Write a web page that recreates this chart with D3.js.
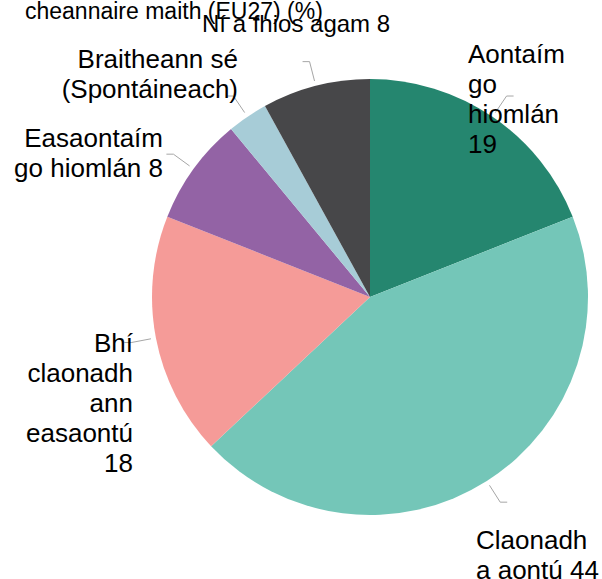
<!DOCTYPE html>
<html>
<head>
<meta charset="utf-8">
<script src="https://cdn.jsdelivr.net/npm/d3@7"></script>
<style>
  html, body { margin: 0; padding: 0; background: #fff; }
  svg { display: block; font-family: "Liberation Sans", Arial, sans-serif; }
</style>
</head>
<body>
<svg id="chart" width="602" height="579"></svg>
<script>
// Survey answers, share of respondents (%)
const categories = [
  "Aontaím go hiomlán",
  "Claonadh a aontú",
  "Bhí claonadh ann easaontú",
  "Easaontaím go hiomlán",
  "Braitheann sé (Spontáineach)",
  "Ní a fhios agam"
];
const values = [19, 44, 18, 8, 3, 8];
const showValue = [true, true, true, true, false, true];
const colors = ["#25866f", "#74c6b8", "#f59b98", "#9363a5", "#a7ccd7", "#474749"];
const titleLine = "cheannaire maith (EU27) (%)";

// Label placement: anchor point, text alignment, wrap width and size for each slice
const labelLayout = [
  { x: 468, y: 63,  anchor: "start", wrap: 110, size: 26 },
  { x: 476, y: 549, anchor: "start", wrap: 128, size: 26 },
  { x: 133, y: 352, anchor: "end",   wrap: 118, size: 26 },
  { x: 163, y: 147, anchor: "end",   wrap: 155, size: 26 },
  { x: 238, y: 68,  anchor: "end",   wrap: 200, size: 26 },
  { x: 202, y: 32,  anchor: "start", wrap: 400, size: 24 }
];

const svg = d3.select("#chart");
const cx = 370, cy = 297, radius = 218;
const lineHeight = 30;

const pie = d3.pie().sort(null).value(d => d.value);
const data = categories.map((c, i) => ({ name: c, value: values[i], i }));
const arcs = pie(data);
const arc = d3.arc().innerRadius(0).outerRadius(radius);

const g = svg.append("g").attr("transform", `translate(${cx},${cy})`);

g.selectAll("path.slice")
  .data(arcs)
  .join("path")
  .attr("class", "slice")
  .attr("d", arc)
  .attr("fill", d => colors[d.data.i]);

// Leader lines: radial segment out from the rim, then a short horizontal tail
const polar = (a, r) => [r * Math.sin(a), -r * Math.cos(a)];
g.selectAll("polyline.leader")
  .data(arcs)
  .join("polyline")
  .attr("class", "leader")
  .attr("fill", "none")
  .attr("stroke", "#a6a6a6")
  .attr("stroke-width", 1)
  .attr("points", d => {
    const mid = (d.startAngle + d.endAngle) / 2;
    const p0 = polar(mid, radius + 5);
    const p1 = polar(mid, radius + 25);
    const dir = Math.sin(mid) >= 0 ? 1 : -1;
    const p2 = [p1[0] + dir * 7, p1[1]];
    return [p0, p1, p2].map(p => p.join(",")).join(" ");
  });

// Slice labels, word-wrapped
const labels = svg.append("g").attr("fill", "#000");

arcs.forEach(d => {
  const i = d.data.i;
  const L = labelLayout[i];
  const str = d.data.name + (showValue[i] ? " " + d.data.value : "");
  const words = str.split(" ");
  const text = labels.append("text")
    .attr("font-size", L.size)
    .attr("text-anchor", L.anchor)
    .attr("x", L.x)
    .attr("y", L.y);
  const lines = [];
  let cur = [];
  const probe = labels.append("text")
    .attr("font-size", L.size)
    .attr("visibility", "hidden");
  words.forEach(w => {
    const trial = cur.concat([w]).join(" ");
    probe.text(trial);
    if (cur.length && probe.node().getComputedTextLength() > L.wrap) {
      lines.push(cur.join(" "));
      cur = [w];
    } else {
      cur.push(w);
    }
  });
  if (cur.length) lines.push(cur.join(" "));
  probe.remove();
  lines.forEach((ln, k) => {
    text.append("tspan")
      .attr("x", L.x)
      .attr("y", L.y + k * lineHeight)
      .text(ln);
  });
});

// Title (last line of the heading)
svg.append("text")
  .attr("x", 25)
  .attr("y", 19)
  .attr("font-size", 23)
  .attr("fill", "#000")
  .text(titleLine);
</script>
</body>
</html>
